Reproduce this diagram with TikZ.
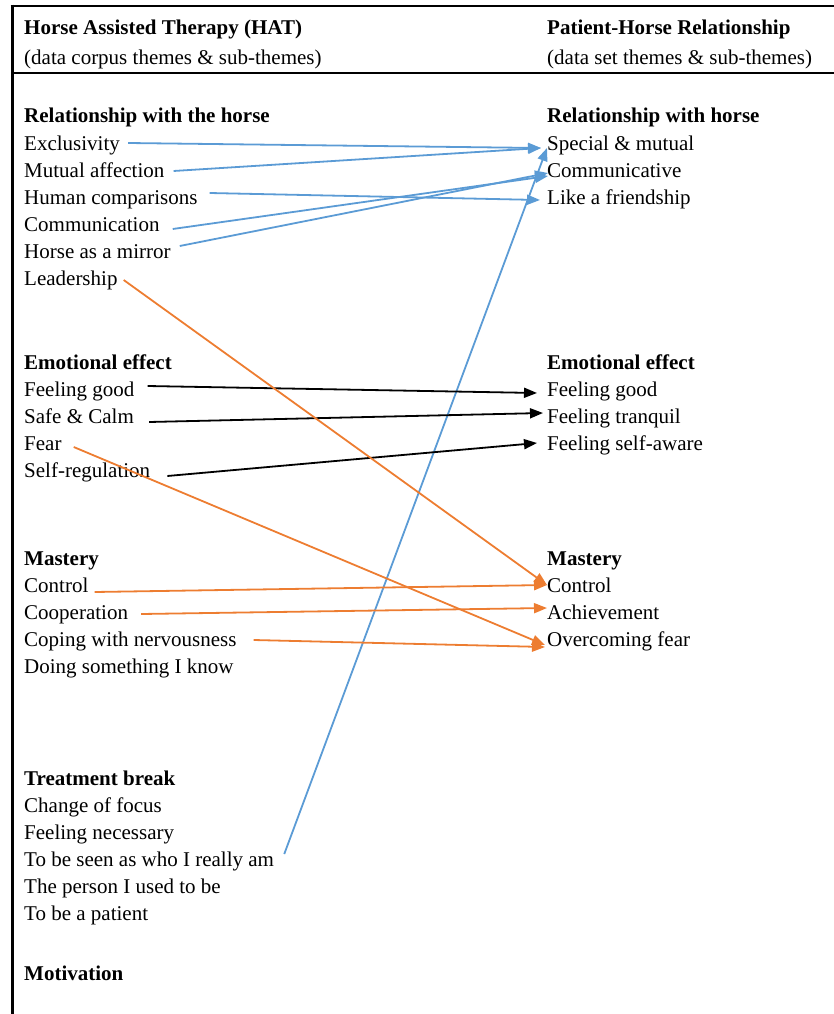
\documentclass[tikz,border=0pt]{standalone}
\usepackage{fontspec}
\setmainfont{Liberation Serif}
\usetikzlibrary{arrows.meta}
\definecolor{hatblue}{RGB}{91,155,213}
\definecolor{hatorange}{RGB}{237,125,49}

\begin{document}
\begin{tikzpicture}[x=1pt,y=-1pt,
        theme/.style={anchor=base west, inner sep=0pt, font=\fontsize{21}{25}\selectfont\bfseries},
        sub/.style={anchor=base west, inner sep=0pt, text height=15pt, text depth=5pt, font=\fontsize{21}{25}\selectfont},
        link/.style={line width=1.8pt, -{Triangle[length=13pt,width=10pt]}}]
        \useasboundingbox (0,0) rectangle (834,1014);

        % Frame
        \draw[line width=2.5pt] (10.5,6) -- (834,6);
        \draw[line width=3pt] (12,4.75) -- (12,1014);
        \draw[line width=2.5pt] (12,73) -- (834,73);

        % Header
        \node[theme] (hat) at (24,35) {Horse Assisted Therapy (HAT)};
        \node[sub] (hatsub) at (24,65) {(data corpus themes \& sub-themes)};
        \node[theme] (phr) at (547,35) {Patient-Horse Relationship};
        \node[sub] (phrsub) at (547,65) {(data set themes \& sub-themes)};

        % Left column - HAT themes
        \node[theme] (lrel) at (24,123) {Relationship with the horse};
        \node[sub] (excl) at (24,150) {Exclusivity};
        \node[sub] (mutu) at (24,177) {Mutual affection};
        \node[sub] (humc) at (24,204) {Human comparisons};
        \node[sub] (comm) at (24,231) {Communication};
        \node[sub] (mirr) at (24,258) {Horse as a mirror};
        \node[sub] (lead) at (24,285) {Leadership};

        \node[theme] (lemo) at (24,369) {Emotional effect};
        \node[sub] (good) at (24,396) {Feeling good};
        \node[sub] (safe) at (24,423) {Safe \& Calm};
        \node[sub] (fear) at (24,450) {Fear};
        \node[sub] (selfr) at (24,477) {Self-regulation};

        \node[theme] (lmas) at (24,565) {Mastery};
        \node[sub] (ctrl) at (24,592) {Control};
        \node[sub] (coop) at (24,619) {Cooperation};
        \node[sub] (cope) at (24,646) {Coping with nervousness};
        \node[sub] (know) at (24,673) {Doing something I know};

        \node[theme] (ltre) at (24,785) {Treatment break};
        \node[sub] (focus) at (24,812) {Change of focus};
        \node[sub] (need) at (24,839) {Feeling necessary};
        \node[sub] (seen) at (24,866) {To be seen as who I really am};
        \node[sub] (used) at (24,893) {The person I used to be};
        \node[sub] (pati) at (24,920) {To be a patient};

        \node[theme] (lmot) at (24,980) {Motivation};

        % Right column - relationship themes
        \node[theme] (rrel) at (547,123) {Relationship with horse};
        \node[sub] (spec) at (547,150) {Special \& mutual};
        \node[sub] (rcomm) at (547,177) {Communicative};
        \node[sub] (frnd) at (547,204) {Like a friendship};

        \node[theme] (remo) at (547,369) {Emotional effect};
        \node[sub] (rgood) at (547,396) {Feeling good};
        \node[sub] (tranq) at (547,423) {Feeling tranquil};
        \node[sub] (aware) at (547,450) {Feeling self-aware};

        \node[theme] (rmas) at (547,565) {Mastery};
        \node[sub] (rctrl) at (547,592) {Control};
        \node[sub] (achv) at (547,619) {Achievement};
        \node[sub] (overc) at (547,646) {Overcoming fear};

        % Links - Blue
        \draw[link, hatblue] ([xshift=8pt,yshift=2pt]excl.east) -- ([xshift=-6pt,yshift=-3pt]spec.west);
        \draw[link, hatblue] ([xshift=9pt,yshift=1pt]mutu.east) -- ([xshift=-6pt,yshift=-3pt]spec.west);
        \draw[link, hatblue] ([xshift=12pt,yshift=6pt]humc.east) -- ([xshift=-7pt,yshift=-1pt]frnd.west);
        \draw[link, hatblue] ([xshift=13pt,yshift=-3pt]comm.east) -- ([xshift=1pt,yshift=-4pt]rcomm.west);
        \draw[link, hatblue] ([xshift=9pt,yshift=7pt]mirr.east) -- ([xshift=1pt,yshift=-1pt]rcomm.west);
        \draw[link, hatblue] ([xshift=10pt,yshift=7pt]seen.east) -- ([yshift=-3pt]spec.west);

        % Links - Black
        \draw[link, black] ([xshift=13pt,yshift=5pt]good.east) -- ([xshift=-10pt,yshift=-2pt]rgood.west);
        \draw[link, black] ([xshift=15pt,yshift=-4pt]safe.east) -- ([xshift=-4pt,yshift=5pt]tranq.west);
        \draw[link, black] ([xshift=17pt,yshift=-4pt]selfr.east) -- ([xshift=-10pt,yshift=2pt]aware.west);

        % Links - Orange
        \draw[link, hatorange] ([xshift=6pt]lead.east) -- ([yshift=2pt]rctrl.west);
        \draw[link, hatorange] ([xshift=6pt,yshift=-5pt]ctrl.east) -- ([yshift=2pt]rctrl.west);
        \draw[link, hatorange] ([xshift=13pt]coop.east) -- ([yshift=6pt]achv.west);
        \draw[link, hatorange] ([xshift=17pt,yshift=1pt]cope.east) -- ([xshift=-2pt,yshift=-6pt]overc.west);
        \draw[link, hatorange] ([xshift=12pt,yshift=-2pt]fear.east) -- ([xshift=-2pt,yshift=-4pt]overc.west);
    \end{tikzpicture}
\end{document}
